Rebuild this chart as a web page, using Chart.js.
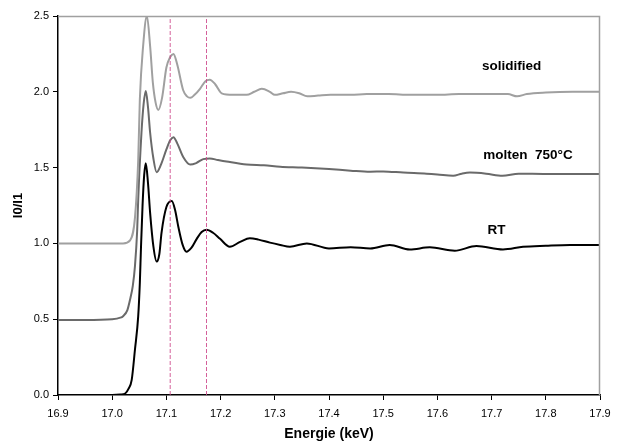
<!DOCTYPE html>
<html>
<head>
<meta charset="utf-8">
<script src="https://cdn.jsdelivr.net/npm/chart.js@4/dist/chart.umd.min.js"></script>
<style>
  html, body { margin: 0; padding: 0; background: #fff; }
  #wrap { width: 621px; height: 444px; }
</style>
</head>
<body>
<div id="wrap"><canvas id="xas"></canvas></div>
<script>
// energy (keV) / absorption I0/I1 for each sample state
const solidE = [16.90, 16.95, 17.00, 17.02, 17.033, 17.042, 17.048, 17.051, 17.057, 17.064, 17.070, 17.075, 17.080, 17.085, 17.092, 17.100, 17.107, 17.113, 17.120, 17.131, 17.138, 17.144, 17.152, 17.162, 17.172, 17.180, 17.190, 17.202, 17.223, 17.248, 17.262, 17.276, 17.291, 17.300, 17.315, 17.330, 17.345, 17.360, 17.380, 17.403, 17.44, 17.47, 17.51, 17.55, 17.60, 17.64, 17.67, 17.70, 17.73, 17.747, 17.765, 17.80, 17.85, 17.90];
const solidI = [1.00, 1.00, 1.00, 1.00, 1.02, 1.17, 1.55, 1.95, 2.30, 2.50, 2.30, 2.06, 1.93, 1.88, 1.96, 2.16, 2.23, 2.25, 2.18, 2.01, 1.97, 1.96, 1.98, 2.02, 2.07, 2.08, 2.05, 1.99, 1.98, 1.98, 2.00, 2.02, 2.00, 1.98, 1.99, 2.00, 1.99, 1.97, 1.975, 1.98, 1.98, 1.985, 1.985, 1.98, 1.98, 1.985, 1.985, 1.985, 1.985, 1.97, 1.985, 1.995, 2.00, 2.00];

const moltenE = [16.90, 16.95, 17.00, 17.015, 17.02, 17.028, 17.033, 17.038, 17.042, 17.046, 17.048, 17.054, 17.058, 17.062, 17.066, 17.070, 17.076, 17.082, 17.090, 17.100, 17.107, 17.113, 17.120, 17.131, 17.144, 17.155, 17.168, 17.180, 17.195, 17.211, 17.248, 17.280, 17.31, 17.35, 17.40, 17.44, 17.476, 17.50, 17.537, 17.58, 17.60, 17.629, 17.645, 17.66, 17.69, 17.72, 17.75, 17.80, 17.85, 17.90];
const moltenI = [0.495, 0.495, 0.50, 0.51, 0.52, 0.56, 0.63, 0.72, 0.85, 1.08, 1.29, 1.73, 1.92, 2.005, 1.90, 1.73, 1.56, 1.47, 1.52, 1.62, 1.68, 1.70, 1.66, 1.57, 1.52, 1.53, 1.556, 1.56, 1.55, 1.54, 1.52, 1.515, 1.506, 1.50, 1.49, 1.48, 1.473, 1.475, 1.467, 1.46, 1.455, 1.446, 1.46, 1.467, 1.46, 1.446, 1.46, 1.458, 1.458, 1.458];

const rtE = [16.90, 16.95, 17.00, 17.015, 17.024, 17.030, 17.036, 17.042, 17.048, 17.051, 17.053, 17.056, 17.059, 17.062, 17.066, 17.070, 17.076, 17.082, 17.087, 17.091, 17.100, 17.110, 17.116, 17.122, 17.130, 17.137, 17.146, 17.156, 17.165, 17.174, 17.186, 17.199, 17.217, 17.236, 17.254, 17.27, 17.291, 17.31, 17.328, 17.359, 17.40, 17.44, 17.476, 17.512, 17.549, 17.586, 17.632, 17.672, 17.721, 17.758, 17.80, 17.845, 17.90];
const rtI = [0.00, 0.00, 0.00, 0.003, 0.01, 0.04, 0.10, 0.30, 0.52, 0.74, 0.96, 1.25, 1.45, 1.528, 1.40, 1.20, 0.98, 0.88, 0.93, 1.07, 1.24, 1.28, 1.22, 1.11, 0.99, 0.945, 0.97, 1.03, 1.075, 1.09, 1.07, 1.03, 0.978, 1.01, 1.034, 1.025, 1.005, 0.99, 0.978, 1.0, 0.967, 0.975, 0.967, 0.99, 0.96, 0.974, 0.952, 0.983, 0.96, 0.978, 0.985, 0.99, 0.99];

// reference energies marked with dashed lines
const markerE = [17.107, 17.174];
const markerSpan = [0, 2.48];

// curve names written next to each curve
const curveNames = ['solidified', 'molten  750°C', 'RT'];
const namePosE = [17.737, 17.767, 17.709];
const namePosI = [2.17, 1.583, 1.088];

const xTicks = { min: 16.9, max: 17.9, step: 0.1 };
const yTicks = { min: 0, max: 2.5, step: 0.5 };

const toPts = (xs, ys) => xs.map((x, i) => ({ x: x, y: ys[i] }));

const curve = (label, xs, ys, color) => ({
  label: label,
  data: toPts(xs, ys),
  borderColor: color,
  borderWidth: 2,
  pointRadius: 0,
  cubicInterpolationMode: 'monotone',
  fill: false
});

const markers = markerE.map(e => ({
  label: 'marker',
  data: toPts([e, e], markerSpan),
  borderColor: 'rgba(204, 68, 136, 0.85)',
  borderWidth: 1,
  borderDash: [4, 2],
  pointRadius: 0,
  fill: false
}));

// grey frame on the top and right side of the plot area
const frame = {
  id: 'frame',
  afterDatasetsDraw(chart) {
    const a = chart.chartArea, c = chart.ctx;
    c.save();
    c.strokeStyle = '#a0a0a0';
    c.lineWidth = 1.5;
    c.beginPath();
    c.moveTo(a.left, a.top + 0.5);
    c.lineTo(a.right - 0.5, a.top + 0.5);
    c.lineTo(a.right - 0.5, a.bottom);
    c.stroke();
    c.restore();
  }
};

const curveLabels = {
  id: 'curveLabels',
  afterDatasetsDraw(chart) {
    const c = chart.ctx, xs = chart.scales.x, ys = chart.scales.y;
    c.save();
    c.font = 'bold 13.5px "Liberation Sans", Arial, sans-serif';
    c.fillStyle = '#000';
    c.textAlign = 'center';
    c.textBaseline = 'middle';
    curveNames.forEach((t, i) => {
      c.fillText(t, xs.getPixelForValue(namePosE[i]), ys.getPixelForValue(namePosI[i]));
    });
    c.restore();
  }
};

Chart.defaults.font.family = '"Liberation Sans", Arial, sans-serif';
Chart.defaults.color = '#000';

new Chart(document.getElementById('xas'), {
  type: 'line',
  data: {
    datasets: [
      ...markers,
      curve('solidified', solidE, solidI, '#a0a0a0'),
      curve('molten 750°C', moltenE, moltenI, '#6a6a6a'),
      curve('RT', rtE, rtI, '#000000')
    ]
  },
  options: {
    responsive: true,
    maintainAspectRatio: false,
    animation: false,
    layout: { padding: { left: 0, top: 16, right: 21, bottom: 0 } },
    plugins: { legend: { display: false }, tooltip: { enabled: false } },
    scales: {
      x: {
        type: 'linear',
        min: xTicks.min,
        max: xTicks.max,
        afterFit(s) { s.height = 49; },
        border: { color: '#000', width: 1.5 },
        grid: { drawOnChartArea: false, color: '#000', tickLength: 5 },
        ticks: {
          stepSize: xTicks.step,
          padding: 7,
          font: { size: 11 },
          callback: v => v.toFixed(1)
        },
        title: {
          display: true,
          text: 'Energie (keV)',
          font: { size: 14, weight: 'bold' },
          padding: { top: 0, bottom: 1 }
        }
      },
      y: {
        min: yTicks.min,
        max: yTicks.max,
        afterFit(s) { s.width = 58; },
        border: { color: '#000', width: 1.5 },
        grid: { drawOnChartArea: false, color: '#000', tickLength: 5 },
        ticks: {
          stepSize: yTicks.step,
          padding: 4,
          font: { size: 11 },
          callback: v => v.toFixed(1)
        },
        title: {
          display: true,
          text: 'I0/I1',
          font: { size: 13, weight: 'bold' },
          padding: { top: 11, bottom: 0 }
        }
      }
    }
  },
  plugins: [frame, curveLabels]
});
</script>
</body>
</html>
